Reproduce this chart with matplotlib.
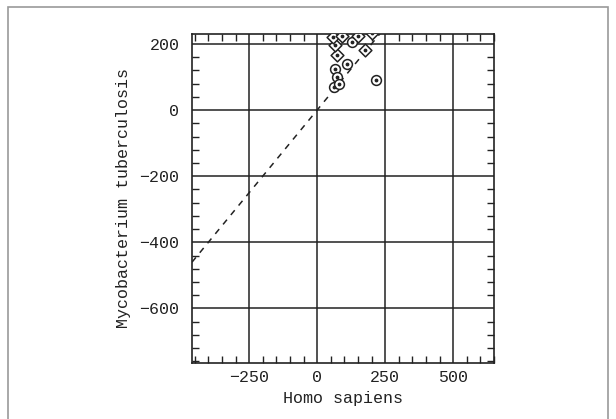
import matplotlib.pyplot as plt
from matplotlib.ticker import MultipleLocator
from matplotlib.patches import Rectangle

# points (Homo sapiens vs Mycobacterium tuberculosis)
circle_x = [127, 109, 217, 65, 72, 63, 82]
circle_y = [205, 138, 91, 124, 101, 71, 78]
diamond_x = [176, 72, 64, 60, 92, 150, 200]
diamond_y = [182, 167, 197, 222, 225, 225, 232]

diag = [-460, 240]

fig = plt.figure(figsize=(6.16, 4.19), dpi=100)
fig.patches.append(Rectangle((8 / 616, -0.05), 600 / 616, 1 - 7 / 419 + 0.05,
                             transform=fig.transFigure, fill=False,
                             edgecolor='#9a9a9a', lw=1.2))
ax = fig.add_axes([192 / 616, 1 - 363 / 419, 302 / 616, 329 / 419])

plt.rcParams['font.family'] = ['Liberation Mono', 'DejaVu Sans Mono']
mono = 'Liberation Mono'

ax.plot(diag, diag, ls=(0, (4, 4)), color='#222222', lw=1.1, zorder=2)
ax.scatter(circle_x, circle_y, s=50, marker='o', facecolors='white',
           edgecolors='#222222', linewidths=1.1, zorder=3)
ax.scatter(diamond_x, diamond_y, s=42, marker='D', facecolors='white',
           edgecolors='#222222', linewidths=1.1, zorder=3)
ax.scatter(circle_x + diamond_x, circle_y + diamond_y, s=3, color='#222222', zorder=4)

ax.set_xlim(-460, 650)
ax.set_ylim(-765, 230)
ax.xaxis.set_major_locator(MultipleLocator(250))
ax.xaxis.set_minor_locator(MultipleLocator(50))
ax.yaxis.set_major_locator(MultipleLocator(200))
ax.yaxis.set_minor_locator(MultipleLocator(40))
ax.grid(True, which='major', color='#222222', lw=1.1)
ax.tick_params(which='both', direction='in', top=True, right=True, color='#222222')
ax.tick_params(which='major', length=0, labelsize=12, labelcolor='#222222')
ax.tick_params(axis='x', which='major', pad=5)
ax.tick_params(axis='y', which='major', pad=9)
ax.tick_params(which='minor', length=5, width=1)
for lab in ax.get_xticklabels() + ax.get_yticklabels():
    lab.set_family(mono)
for s in ax.spines.values():
    s.set_color('#222222')
    s.set_linewidth(1.2)

ax.set_xlabel('Homo sapiens', fontsize=12, family=mono, labelpad=4, color='#222222')
ax.set_ylabel('Mycobacterium tuberculosis', fontsize=12, family=mono, labelpad=6,
              color='#222222')

fig.savefig('out.png', dpi=100)
